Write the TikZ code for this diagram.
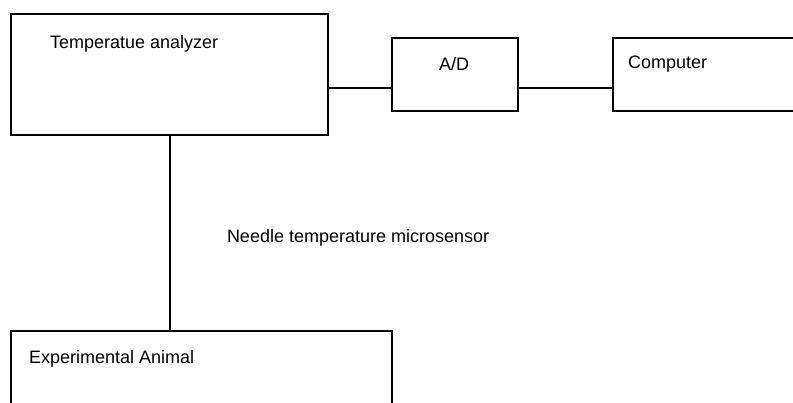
\documentclass[tikz,border=0pt]{standalone}
\usepackage{fontspec}
\setmainfont{Liberation Sans}
\begin{document}
\begin{tikzpicture}[x=1pt,y=-1pt,line width=1.1pt,
  every node/.style={outer sep=0pt, inner sep=0pt, font=\fontsize{18}{21}\selectfont},
  block/.style={draw, anchor=north west},
  caption/.style={anchor=base west}]
\useasboundingbox (0,0) rectangle (793,402);
\node[block, minimum width=317pt, minimum height=121pt] (analyzer) at (11,14) {};
\node[block, minimum width=126pt, minimum height=73pt] (ad) at (392,38) {};
\node[block, minimum width=300pt, minimum height=73pt] (computer) at (613,38) {};
\node[block, minimum width=381pt, minimum height=140pt] (animal) at (11,331) {};
\node[caption] (analyzertext) at (50,48) {Temperatue analyzer};
\node[anchor=base] (adtext) at (454,70) {A/D};
\node[caption] (computertext) at (628,68) {Computer};
\node[caption] (sensortext) at (227,242) {Needle temperature microsensor};
\node[caption] (animaltext) at (29,363) {Experimental Animal};
\draw ([yshift=-13.5pt]analyzer.east) -- ([yshift=-13.5pt]ad.west);
\draw ([yshift=-13.5pt]ad.east) -- ([yshift=-13.5pt]computer.west);
\draw ([xshift=0.5pt]analyzer.south) -- ([xshift=0.5pt]analyzer.south |- animal.north);
\end{tikzpicture}
\end{document}
